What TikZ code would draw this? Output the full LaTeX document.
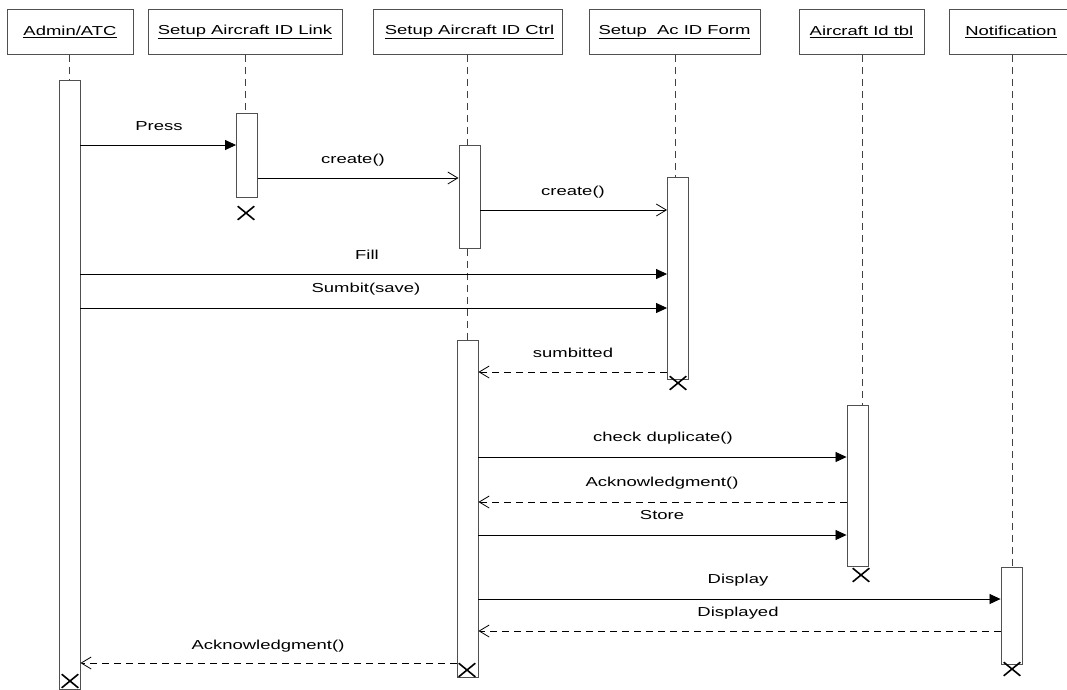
\documentclass[tikz,border=0pt]{standalone}
\usepackage{fontspec}
\setmainfont{Liberation Sans}
\newfontfamily\labfont[FakeStretch=1.42]{Liberation Sans}
\usetikzlibrary{arrows.meta,shapes.misc}
\definecolor{boxgray}{HTML}{505050}
\tikzset{
  head/.style={draw=boxgray, line width=0.9pt, minimum height=45pt, inner sep=0pt, font=\labfont\fontsize{13}{15}\selectfont},
  act/.style={draw=boxgray, line width=0.9pt, fill=white, minimum width=21pt, anchor=north, inner sep=0pt},
  life/.style={draw=black!75, line width=0.8pt, dash pattern=on 7pt off 5pt},
  sync/.style={line width=0.8pt, -{Triangle[length=11pt,width=10pt]}},
  open/.style={line width=0.8pt, -{Straight Barb[length=10pt,width=12pt,line width=0.8pt]}},
  ret/.style={open, dash pattern=on 7pt off 5pt},
  lab/.style={anchor=base, inner sep=0pt, font=\labfont\fontsize{13}{15}\selectfont},
  xmark/.style={cross out, draw=black, line width=1.6pt, minimum width=15pt, minimum height=12pt, inner sep=0pt},
}
\begin{document}
\begin{tikzpicture}[x=1pt,y=-1pt]
\useasboundingbox[fill=white] (0,0) rectangle (1067,689);
\begin{scope}
\clip (0,0) rectangle (1067,689);
% headers
\node[head, minimum width=126pt] (hAdmin) at (70,32) {\underline{Admin/ATC}};
\node[head, minimum width=194pt] (hLink) at (245,32) {\underline{Setup Aircraft ID Link}};
\node[head, minimum width=189pt] (hCtrl) at (467.5,32) {\hspace*{4pt}\underline{Setup Aircraft ID Ctrl}};
\node[head, minimum width=171pt] (hForm) at (674.5,32) {\underline{Setup\ \ Ac ID Form}};
\node[head, minimum width=125pt] (hTbl) at (861.5,32) {\underline{Aircraft Id tbl}};
\node[head, minimum width=124pt] (hNot) at (1011,32) {\underline{Notification}};
\end{scope}
% activation boxes
\node[act, minimum height=609pt] (aAdmin) at (69.5,80) {};
\node[act, minimum height=84pt] (aLink) at (247,113) {};
\node[act, minimum height=103pt] (aCtrl1) at (469.5,145) {};
\node[act, minimum height=337pt] (aCtrl2) at (467.5,340) {};
\node[act, minimum height=202pt] (aForm) at (678,177) {};
\node[act, minimum height=161pt] (aTbl) at (857.5,405) {};
\node[act, minimum height=97pt] (aNot) at (1011.5,567) {};
% lifelines
\draw[life] (hAdmin.south -| aAdmin.north) -- (aAdmin.north);
\draw[life] (hLink.south -| 245,0) -- (aLink.north -| 245,0);
\draw[life] (hCtrl.south -| 467,0) -- (aCtrl1.north -| 467,0);
\draw[life] (aCtrl1.south -| 467,0) -- (aCtrl2.north -| 467,0);
\draw[life] (hForm.south -| 675,0) -- (aForm.north -| 675,0);
\draw[life] (hTbl.south -| 862,0) -- (aTbl.north -| 862,0);
\draw[life] (hNot.south -| 1012,0) -- (aNot.north -| 1012,0);
% messages
\draw[sync] (aAdmin.east |- 0,145) -- (aLink.west |- 0,145);
\node[lab] (lPress) at (159,130) {Press};
\draw[open] (aLink.east |- 0,178) -- (aCtrl1.west |- 0,178);
\node[lab] (lCreate1) at (353,163) {create()};
\draw[open] (aCtrl1.east |- 0,210) -- (aForm.west |- 0,210);
\node[lab] (lCreate2) at (573,195) {create()};
\draw[sync] (aAdmin.east |- 0,274) -- (aForm.west |- 0,274);
\node[lab] (lFill) at (367,259) {Fill};
\draw[sync] (aAdmin.east |- 0,308) -- (aForm.west |- 0,308);
\node[lab] (lSave) at (366,292) {Sumbit(save)};
\draw[ret] (aForm.west |- 0,372) -- (aCtrl2.east |- 0,372);
\node[lab] (lSubm) at (573,357) {sumbitted};
\draw[sync] (aCtrl2.east |- 0,457) -- (aTbl.west |- 0,457);
\node[lab] (lCheck) at (663,441) {check duplicate()};
\draw[ret] (aTbl.west |- 0,502) -- (aCtrl2.east |- 0,502);
\node[lab] (lAck1) at (662,486) {Acknowledgment()};
\draw[sync] (aCtrl2.east |- 0,535) -- (aTbl.west |- 0,535);
\node[lab] (lStore) at (662,519) {Store};
\draw[sync] (aCtrl2.east |- 0,599) -- (aNot.west |- 0,599);
\node[lab] (lDisp) at (738,583) {Display};
\draw[ret] (aNot.west |- 0,631) -- (aCtrl2.east |- 0,631);
\node[lab] (lDisped) at (738,616) {Displayed};
\draw[ret] (aCtrl2.west |- 0,663) -- (aAdmin.east |- 0,663);
\node[lab] (lAck2) at (268,649) {Acknowledgment()};
% destruction marks
\node[xmark] (xLink) at (246,213) {};
\node[xmark] (xForm) at (678,383) {};
\node[xmark] (xTbl) at (861,575) {};
\node[xmark] (xNot) at (1012,669) {};
\node[xmark] (xCtrl) at (467,670) {};
\node[xmark] (xAdmin) at (70,681) {};
\end{tikzpicture}
\end{document}
